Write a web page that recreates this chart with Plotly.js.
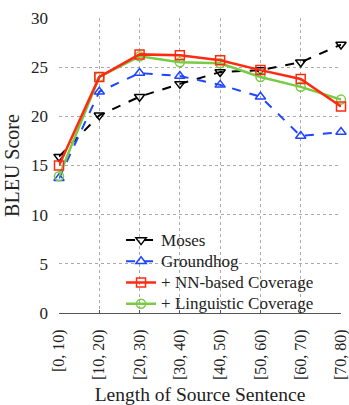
<!DOCTYPE html>
<html>
<head>
<meta charset="utf-8">
<script src="https://cdn.plot.ly/plotly-3.0.1.min.js"></script>
<style>
	html, body { margin: 0; padding: 0; background: #fff; }
	#chart { width: 349px; height: 405px; }
</style>
</head>
<body>
<div id="chart"></div>
<script>
var lengths = ['[0, 10)', '[10, 20)', '[20, 30)', '[30, 40)', '[40, 50)', '[50, 60)', '[60, 70)', '[70, 80)'];
var moses = [15.9, 20.1, 22.0, 23.3, 24.5, 24.7, 25.5, 27.3];
var groundhog = [13.7, 22.5, 24.4, 24.1, 23.2, 22.0, 18.0, 18.4];
var nnCoverage = [15.0, 24.0, 26.3, 26.2, 25.7, 24.7, 23.8, 21.0];
var lingCoverage = [13.9, 24.0, 26.1, 25.5, 25.4, 24.0, 23.0, 21.7];

var serif = '"Liberation Serif", serif';

function series(name, vals, color, dash, symbol, width, rank) {
	return {
		x : lengths,
		y : vals,
		type : 'scatter',
		mode : 'lines+markers',
		// bigger text inside a tighter legend row
		name : '<span style="font-size:17px">' + name + '</span>',
		legendrank : rank,
		cliponaxis : false,
		line : { color : color, width : width, dash : dash },
		marker : { symbol : symbol, size : 9, color : color, line : { color : color, width : 1.5 } }
	};
}

// green drawn before red so red stays on top, legend order kept with legendrank
var data = [
	series('Moses', moses, '#000000', 'dash', 'triangle-down-open', 2, 1),
	series('Groundhog', groundhog, '#1f45ff', 'dash', 'triangle-up-open', 2, 2),
	series('+ Linguistic Coverage', lingCoverage, '#77cc44', 'solid', 'circle-open', 2.5, 4),
	series('+ NN-based Coverage', nnCoverage, '#ff2a10', 'solid', 'square-open', 2.5, 3)
];

var layout = {
	width : 349,
	height : 405,
	paper_bgcolor : '#fff',
	plot_bgcolor : '#fff',
	margin : { l : 59, r : 8, t : 18, b : 92 },
	font : { family : serif, size : 16, color : '#222' },
	showlegend : true,
	legend : {
		x : 0.22,
		y : 0.3,
		xanchor : 'left',
		yanchor : 'top',
		bgcolor : 'rgba(0,0,0,0)',
		tracegroupgap : 0,
		itemwidth : 30,
		font : { family : serif, size : 14, color : '#222' }
	},
	xaxis : {
		type : 'category',
		range : [0, 7],
		tickangle : -90,
		showgrid : true,
		gridcolor : '#aaa',
		griddash : 'dot',
		gridwidth : 1,
		showline : true,
		linecolor : '#555',
		linewidth : 1,
		ticks : 'inside',
		ticklen : 3,
		tickcolor : '#555',
		ticklabelstandoff : 9,
		tickfont : { family : serif, size : 16, color : '#222' },
		title : { text : 'Length of Source Sentence', font : { family : serif, size : 19.5, color : '#222' }, standoff : 8 },
		zeroline : false
	},
	yaxis : {
		range : [0, 30],
		dtick : 5,
		showgrid : true,
		gridcolor : '#aaa',
		griddash : 'dot',
		gridwidth : 1,
		zeroline : false,
		showline : false,
		ticks : '',
		ticklabelstandoff : 10,
		tickfont : { family : serif, size : 17, color : '#222' },
		title : { text : 'BLEU Score', font : { family : serif, size : 20, color : '#222' }, standoff : 6 }
	}
};

Plotly.newPlot('chart', data, layout, { displayModeBar : false, staticPlot : true });
</script>
</body>
</html>
